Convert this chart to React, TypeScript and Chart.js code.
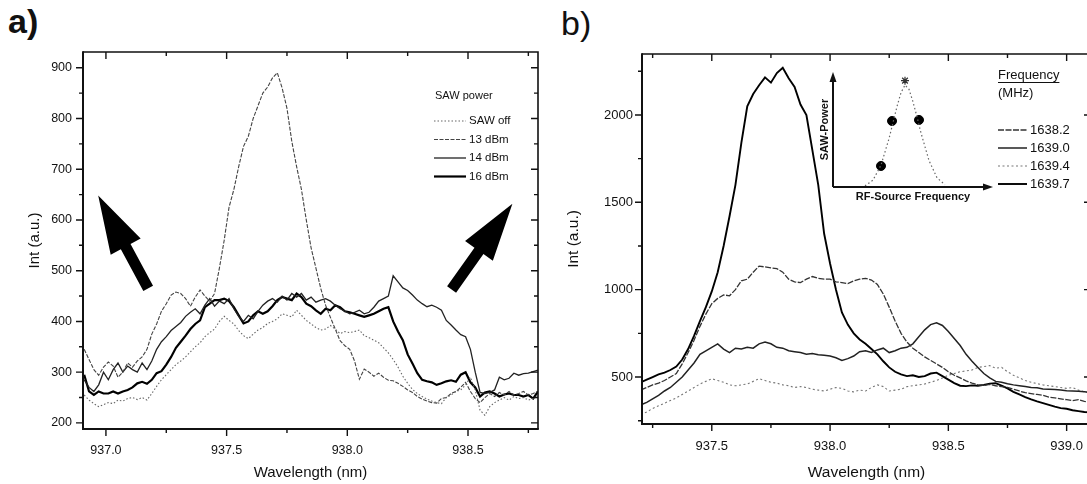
import React, { useEffect, useRef } from 'react';
import { Chart, registerables } from 'chart.js';

Chart.register(...registerables);

const FONT = "'Liberation Sans', Arial, Helvetica, sans-serif";
const INK = '#111';

// ---------------- panel a data ----------------
const wavelengthA = [
  936.91, 936.93, 936.95, 936.97, 936.99,
  937.01, 937.03, 937.05, 937.07, 937.09, 937.11, 937.13, 937.15, 937.17, 937.19,
  937.21, 937.23, 937.25, 937.27, 937.29, 937.31, 937.33, 937.35, 937.37, 937.39,
  937.41, 937.43, 937.45, 937.47, 937.49, 937.51, 937.53, 937.55, 937.57, 937.59,
  937.61, 937.63, 937.65, 937.67, 937.69, 937.71, 937.73, 937.75, 937.77, 937.79,
  937.81, 937.83, 937.85, 937.87, 937.89, 937.91, 937.93, 937.95, 937.97, 937.99,
  938.01, 938.03, 938.05, 938.07, 938.09, 938.11, 938.13, 938.15, 938.17, 938.19,
  938.21, 938.23, 938.25, 938.27, 938.29, 938.31, 938.33, 938.35, 938.37, 938.39,
  938.41, 938.43, 938.45, 938.47, 938.49, 938.51, 938.53, 938.55, 938.57, 938.59,
  938.61, 938.63, 938.65, 938.67, 938.69, 938.71, 938.73, 938.75, 938.77, 938.79,
];
const sawOff = [
  255, 245, 238, 232, 236,
  240, 238, 245, 243, 248, 250, 246, 250, 245, 258,
  272, 285, 295, 305, 315, 322, 330, 340, 350, 358,
  370, 378, 385, 400, 410, 402, 395, 382, 372, 366,
  375, 383, 388, 396, 400, 405, 415, 412, 409, 422,
  412, 402, 395, 388, 383, 385, 392, 385, 376, 380,
  378, 380, 383, 372, 368, 363, 358, 348, 338, 325,
  310, 292, 278, 266, 258, 252, 247, 243, 240, 238,
  250, 255, 262, 265, 275, 290, 265, 225, 215, 232,
  240, 245, 250, 245, 252, 248, 250, 245, 248, 252,
];
const dBm13 = [
  345, 325, 305, 294, 310,
  320, 312, 290, 300, 318, 310, 322, 330, 345, 375,
  395, 420, 435, 452, 458, 455, 445, 430, 448, 462,
  450, 440, 455, 505, 560, 625, 660, 705, 745, 765,
  800, 825, 850, 862, 880, 890, 860, 820, 755, 705,
  660, 600, 545, 505, 465, 432, 408, 385, 362, 352,
  345, 322, 286, 306, 300, 292, 298, 290, 284, 283,
  278, 272, 265, 260, 252, 247, 243, 240, 239, 248,
  250, 258, 262, 270, 280, 262, 248, 240, 250, 258,
  252, 260, 255, 262, 255, 258, 262, 255, 258, 262,
];
const dBm14 = [
  285, 270, 262, 275, 300,
  285, 305, 318, 300, 312, 305, 300, 318, 305, 322,
  345, 360, 370, 382, 390, 398, 410, 418, 425, 415,
  432, 445, 430, 440, 435, 445, 425, 410, 400, 412,
  405, 420, 432, 440, 445, 438, 450, 442, 455, 448,
  455, 442, 448, 438, 442, 445, 440, 432, 425, 420,
  415, 418, 422, 415, 418, 428, 440, 445, 450, 490,
  478, 466, 461, 452, 442, 435, 429, 432, 428, 422,
  402, 393, 383, 374, 370, 345, 300, 260, 258, 260,
  265, 290, 285, 288, 298, 294, 297, 298, 301, 304,
];
const dBm16 = [
  295, 262, 255, 262, 258,
  258, 262, 258, 262, 265, 270, 278, 281, 277, 285,
  298, 302, 315, 330, 348, 360, 372, 385, 395, 402,
  428, 435, 442, 442, 445, 440, 428, 412, 396, 400,
  412, 420, 415, 420, 430, 442, 448, 445, 442, 455,
  448, 435, 430, 422, 415, 425, 422, 432, 428, 420,
  418, 415, 412, 409, 412, 415, 420, 425, 428, 400,
  380, 363, 335, 317, 298, 285, 282, 280, 275, 278,
  282, 284, 281, 295, 300, 280, 270, 252, 260, 262,
  258, 252, 256, 258, 255, 255, 252, 255, 248, 262,
];
const seriesLabelsA = ['SAW off', '13 dBm', '14 dBm', '16 dBm'];
const xTicksA = [937.0, 937.5, 938.0, 938.5];
const yTicksA = [200, 300, 400, 500, 600, 700, 800, 900];
const xRangeA = [936.905, 938.79];
const yRangeA = [188, 931];
// arrows (data coordinates): tail -> tip
const arrowTailsA = [[937.175, 465], [938.432, 463]];
const arrowTipsA = [[936.968, 648], [938.684, 632]];

// ---------------- panel b data ----------------
const wavelengthB = [
  937.2, 937.225, 937.25, 937.275, 937.3, 937.325, 937.35, 937.375, 937.4, 937.425,
  937.45, 937.475, 937.5, 937.525, 937.55, 937.575, 937.6, 937.625, 937.65, 937.675,
  937.7, 937.725, 937.75, 937.775, 937.8, 937.825, 937.85, 937.875, 937.9, 937.925,
  937.95, 937.975, 938.0, 938.025, 938.05, 938.075, 938.1, 938.125, 938.15, 938.175,
  938.2, 938.225, 938.25, 938.275, 938.3, 938.325, 938.35, 938.375, 938.4, 938.425,
  938.45, 938.475, 938.5, 938.525, 938.55, 938.575, 938.6, 938.625, 938.65, 938.675,
  938.7, 938.725, 938.75, 938.775, 938.8, 938.825, 938.85, 938.875, 938.9, 938.925,
  938.95, 938.975, 939.0, 939.025, 939.05, 939.075, 939.1,
];
const f16382 = [
  425, 440, 455, 465, 480, 500, 520, 575, 640, 710,
  790, 860, 920, 950, 970, 965, 1000, 1050, 1060, 1100,
  1135, 1130, 1125, 1120, 1100, 1060, 1045, 1040, 1060, 1075,
  1065, 1060, 1060, 1045, 1040, 1035, 1050, 1060, 1065, 1055,
  1030, 975, 900, 820, 750, 700, 665, 640, 615, 595,
  575, 555, 530, 510, 495, 478, 465, 455, 452, 458,
  450, 445, 440, 430, 420, 410, 405, 400, 395, 385,
  380, 375, 370, 365, 370, 360, 355,
];
const f16390 = [
  340, 355, 375, 395, 420, 440, 470, 500, 540, 580,
  630, 650, 670, 690, 660, 640, 665, 660, 670, 665,
  690, 700, 690, 670, 665, 650, 645, 640, 630, 635,
  628, 625, 620, 610, 595, 605, 620, 645, 650, 640,
  655, 665, 640, 650, 665, 670, 690, 730, 770, 800,
  810, 795, 760, 720, 680, 630, 590, 555, 520, 495,
  475, 470, 462, 455, 450, 445, 440, 438, 432, 430,
  428, 425, 422, 420, 418, 415, 412,
];
const f16394 = [
  285, 300, 320, 335, 350, 365, 380, 400, 420, 440,
  460, 475, 490, 480, 470, 455, 450, 455, 460, 475,
  490, 480, 470, 465, 455, 450, 440, 445, 440, 430,
  425, 420, 430, 440, 435, 420, 415, 425, 420, 440,
  455, 445, 420, 425, 430, 445, 450, 455, 460, 470,
  480, 495, 510, 520, 530, 535, 540, 555, 560, 565,
  550, 555, 530, 510, 495, 480, 470, 462, 455, 450,
  445, 440, 435, 440, 425, 415, 410,
];
const f16397 = [
  470, 485, 500, 515, 525, 540, 560, 600, 660, 735,
  820, 900, 990, 1100, 1250, 1420, 1600, 1840, 2050, 2120,
  2170, 2215, 2185, 2240, 2270, 2210, 2160, 2060, 2000, 1800,
  1600, 1320, 1150, 1000, 870, 800, 750, 715, 690, 660,
  630, 590, 555, 530, 515, 505, 510, 500, 505, 520,
  525, 505, 485, 465, 450, 448, 452, 450, 455, 462,
  465, 450, 435, 415, 400, 385, 372, 360, 350, 340,
  330, 322, 318, 310, 305, 300, 298,
];
const seriesLabelsB = ['1638.2', '1639.0', '1639.4', '1639.7'];
const xTicksB = [937.5, 938.0, 938.5, 939.0];
const yTicksB = [500, 1000, 1500, 2000];
const xRangeB = [937.205, 939.103];
const yRangeB = [231, 2349];

// ---------------- inset data ----------------
const insetCurveX = [2.0, 2.5, 3.0, 3.5, 3.75, 4.0, 4.25, 4.5, 4.75, 5.0, 5.25, 5.5, 6.0, 6.5, 7.0];
const insetCurveY = [0.1, 0.6, 1.9, 4.2, 5.6, 7.0, 8.2, 8.87, 8.5, 7.4, 6.1, 4.7, 2.3, 0.8, 0.2];
const insetPointX = [3.0, 3.69, 5.375];
const insetPointY = [1.83, 5.74, 5.83];
const insetPeak = [4.5, 9.25];

// ---------------- helpers ----------------
function pairs(xs: number[], ys: number[]) {
  return xs.map((x, i) => ({ x, y: ys[i] }));
}

function minorTicks(majors: number[], min: number, max: number) {
  const step = majors[1] - majors[0];
  const out: number[] = [];
  for (let v = majors[0] - step / 2; v <= max + 1e-9; v += step) {
    if (v >= min) out.push(v);
  }
  return out;
}

function framePlugin(xMajors: number[], yMajors: number[]) {
  return {
    id: 'frameTicks',
    afterDraw(chart: any) {
      const { ctx, chartArea: a, scales } = chart;
      const xs = scales.x;
      const ys = scales.y;
      ctx.save();
      ctx.setLineDash([]);
      ctx.strokeStyle = INK;
      ctx.lineWidth = 1.6;
      ctx.beginPath();
      ctx.moveTo(a.left, a.top);
      ctx.lineTo(a.right, a.top);
      ctx.lineTo(a.right, a.bottom);
      ctx.stroke();
      ctx.lineWidth = 2;
      ctx.beginPath();
      ctx.moveTo(a.left, a.top - 0.8);
      ctx.lineTo(a.left, a.bottom);
      ctx.lineTo(a.right + 0.8, a.bottom);
      ctx.stroke();
      ctx.lineWidth = 1.4;
      const xMin = xs.min, xMax = xs.max, yMin = ys.min, yMax = ys.max;
      const drawX = (vals: number[], len: number) => {
        vals.forEach((v) => {
          if (v < xMin || v > xMax) return;
          const px = xs.getPixelForValue(v);
          ctx.beginPath();
          ctx.moveTo(px, a.bottom);
          ctx.lineTo(px, a.bottom + len);
          ctx.moveTo(px, a.top);
          ctx.lineTo(px, a.top + len);
          ctx.stroke();
        });
      };
      const drawY = (vals: number[], len: number) => {
        vals.forEach((v) => {
          if (v < yMin || v > yMax) return;
          const py = ys.getPixelForValue(v);
          ctx.beginPath();
          ctx.moveTo(a.left - len, py);
          ctx.lineTo(a.left, py);
          ctx.moveTo(a.right - len, py);
          ctx.lineTo(a.right, py);
          ctx.stroke();
        });
      };
      drawX(xMajors, 7);
      drawX(minorTicks(xMajors, xMin, xMax), 4);
      drawY(yMajors, 7);
      drawY(minorTicks(yMajors, yMin, yMax), 4);
      ctx.restore();
    },
  };
}

function legendPlugin(cfg: any) {
  return {
    id: 'legendBox',
    afterDraw(chart: any) {
      const ctx = chart.ctx;
      ctx.save();
      ctx.fillStyle = INK;
      ctx.strokeStyle = INK;
      ctx.textBaseline = 'middle';
      ctx.textAlign = 'left';
      cfg.titles.forEach((t: any) => {
        ctx.font = t.font;
        ctx.fillText(t.text, t.x, t.y);
        if (t.underline) {
          const w = ctx.measureText(t.text).width;
          ctx.lineWidth = 1;
          ctx.setLineDash([]);
          ctx.beginPath();
          ctx.moveTo(t.x, t.y + 7.5);
          ctx.lineTo(t.x + w, t.y + 7.5);
          ctx.stroke();
        }
      });
      chart.data.datasets.forEach((ds: any, i: number) => {
        const y = cfg.rowsY[i];
        ctx.strokeStyle = ds.borderColor;
        ctx.lineWidth = ds.borderWidth;
        ctx.setLineDash(ds.borderDash || []);
        ctx.beginPath();
        ctx.moveTo(cfg.lineX[0], y);
        ctx.lineTo(cfg.lineX[1], y);
        ctx.stroke();
        ctx.setLineDash([]);
        ctx.fillStyle = INK;
        ctx.font = cfg.font;
        ctx.fillText(ds.label, cfg.textX, y);
      });
      ctx.restore();
    },
  };
}

function arrowsPlugin(tails: number[][], tips: number[][]) {
  return {
    id: 'bigArrows',
    afterDatasetsDraw(chart: any) {
      const { ctx, scales } = chart;
      ctx.save();
      ctx.fillStyle = '#000';
      tails.forEach((t, i) => {
        const p0 = { x: scales.x.getPixelForValue(t[0]), y: scales.y.getPixelForValue(t[1]) };
        const tip = tips[i];
        const p1 = { x: scales.x.getPixelForValue(tip[0]), y: scales.y.getPixelForValue(tip[1]) };
        const dx = p1.x - p0.x, dy = p1.y - p0.y;
        const L = Math.hypot(dx, dy);
        const ux = dx / L, uy = dy / L;
        const nx = -uy, ny = ux;
        const headL = 0.55 * L, headW = 17, shaftW = 5.5;
        const nb = { x: p1.x - ux * headL, y: p1.y - uy * headL };
        ctx.beginPath();
        ctx.moveTo(p0.x + nx * shaftW, p0.y + ny * shaftW);
        ctx.lineTo(nb.x + nx * shaftW, nb.y + ny * shaftW);
        ctx.lineTo(nb.x + nx * headW, nb.y + ny * headW);
        ctx.lineTo(p1.x, p1.y);
        ctx.lineTo(nb.x - nx * headW, nb.y - ny * headW);
        ctx.lineTo(nb.x - nx * shaftW, nb.y - ny * shaftW);
        ctx.lineTo(p0.x - nx * shaftW, p0.y - ny * shaftW);
        ctx.closePath();
        ctx.fill();
      });
      ctx.restore();
    },
  };
}

const insetAxesPlugin = {
  id: 'insetAxes',
  afterDraw(chart: any) {
    const { ctx, chartArea: a } = chart;
    ctx.save();
    ctx.strokeStyle = INK;
    ctx.fillStyle = INK;
    ctx.lineWidth = 2;
    ctx.setLineDash([]);
    ctx.beginPath();
    ctx.moveTo(a.left, a.bottom);
    ctx.lineTo(a.right - 7, a.bottom);
    ctx.moveTo(a.left, a.bottom);
    ctx.lineTo(a.left, a.top + 7);
    ctx.stroke();
    ctx.beginPath();
    ctx.moveTo(a.right, a.bottom);
    ctx.lineTo(a.right - 10, a.bottom - 3.5);
    ctx.lineTo(a.right - 10, a.bottom + 3.5);
    ctx.closePath();
    ctx.fill();
    ctx.beginPath();
    ctx.moveTo(a.left, a.top);
    ctx.lineTo(a.left - 3.5, a.top + 10);
    ctx.lineTo(a.left + 3.5, a.top + 10);
    ctx.closePath();
    ctx.fill();
    ctx.restore();
  },
};

function mainChart(canvas: HTMLCanvasElement, spec: any) {
  return new Chart(canvas, {
    type: 'line',
    data: {
      datasets: spec.series.map((s: any) => ({
        label: s.label,
        data: pairs(spec.xs, s.values),
        borderColor: s.color,
        borderWidth: s.width,
        borderDash: s.dash,
        pointRadius: 0,
        fill: false,
        tension: 0,
      })),
    },
    options: {
      responsive: false,
      animation: false,
      events: [],
      layout: { padding: spec.padding },
      plugins: { legend: { display: false }, tooltip: { enabled: false } },
      scales: {
        x: {
          type: 'linear',
          min: spec.xRange[0],
          max: spec.xRange[1],
          afterBuildTicks: (s: any) => {
            s.ticks = spec.xTicks.map((v: number) => ({ value: v }));
          },
          afterFit: (s: any) => {
            s.height = spec.xHeight;
          },
          grid: { display: false, drawTicks: false },
          border: { display: false },
          ticks: {
            autoSkip: false,
            maxRotation: 0,
            padding: spec.xTickPad,
            color: INK,
            font: { family: FONT, size: spec.tickSize },
            callback: (v: any) => Number(v).toFixed(1),
          },
          title: {
            display: true,
            text: 'Wavelength (nm)',
            color: INK,
            font: { family: FONT, size: spec.titleSize },
            padding: { top: 0, bottom: 2 },
          },
        },
        y: {
          type: 'linear',
          min: spec.yRange[0],
          max: spec.yRange[1],
          afterBuildTicks: (s: any) => {
            s.ticks = spec.yTicks.map((v: number) => ({ value: v }));
          },
          afterFit: (s: any) => {
            s.width = spec.yWidth;
          },
          grid: { display: false, drawTicks: false },
          border: { display: false },
          ticks: {
            autoSkip: false,
            padding: spec.yTickPad,
            color: INK,
            font: { family: FONT, size: spec.tickSize },
            callback: (v: any) => String(v),
          },
          title: {
            display: true,
            text: 'Int (a.u.)',
            color: INK,
            font: { family: FONT, size: spec.titleSize },
            padding: { top: spec.yTitlePad, bottom: 0 },
          },
        },
      },
    },
    plugins: spec.plugins,
  } as any);
}

export default function App() {
  const refA = useRef<HTMLCanvasElement>(null);
  const refB = useRef<HTMLCanvasElement>(null);
  const refI = useRef<HTMLCanvasElement>(null);

  useEffect(() => {
    const charts: Chart[] = [];
    if (refA.current) {
      charts.push(
        mainChart(refA.current, {
          xs: wavelengthA,
          series: [
            { label: seriesLabelsA[0], values: sawOff, color: '#666', width: 1.1, dash: [1.5, 2] },
            { label: seriesLabelsA[1], values: dBm13, color: '#444', width: 1.1, dash: [4, 1.5] },
            { label: seriesLabelsA[2], values: dBm14, color: '#222', width: 1.3, dash: [] },
            { label: seriesLabelsA[3], values: dBm16, color: '#000', width: 2.2, dash: [] },
          ],
          xRange: xRangeA,
          yRange: yRangeA,
          xTicks: xTicksA,
          yTicks: yTicksA,
          padding: { left: 0, top: 52, right: 22, bottom: 0 },
          xHeight: 55,
          yWidth: 83,
          xTickPad: 14,
          yTickPad: 11,
          yTitlePad: 26,
          tickSize: 12.5,
          titleSize: 15,
          plugins: [
            arrowsPlugin(arrowTailsA, arrowTipsA),
            framePlugin(xTicksA, yTicksA),
            legendPlugin({
              titles: [{ text: 'SAW power', x: 435, y: 96, font: `11px ${FONT}` }],
              rowsY: [121, 139.5, 158, 176.5],
              lineX: [434, 466],
              textX: 469,
              font: `11.5px ${FONT}`,
            }),
          ],
        })
      );
    }
    if (refB.current) {
      charts.push(
        mainChart(refB.current, {
          xs: wavelengthB,
          series: [
            { label: seriesLabelsB[0], values: f16382, color: '#333', width: 1.3, dash: [6, 1.5] },
            { label: seriesLabelsB[1], values: f16390, color: '#222', width: 1.5, dash: [] },
            { label: seriesLabelsB[2], values: f16394, color: '#777', width: 1.1, dash: [2, 2.5] },
            { label: seriesLabelsB[3], values: f16397, color: '#000', width: 1.9, dash: [] },
          ],
          xRange: xRangeB,
          yRange: yRangeB,
          xTicks: xTicksB,
          yTicks: yTicksB,
          padding: { left: 0, top: 54, right: 14, bottom: 0 },
          xHeight: 60,
          yWidth: 97,
          xTickPad: 15,
          yTickPad: 9,
          yTitlePad: 19,
          tickSize: 13,
          titleSize: 15.5,
          plugins: [
            framePlugin(xTicksB, yTicksB),
            legendPlugin({
              titles: [
                { text: 'Frequency', x: 453, y: 75, font: `13px ${FONT}`, underline: true },
                { text: '(MHz)', x: 453, y: 93, font: `13px ${FONT}` },
              ],
              rowsY: [130, 148, 166, 184],
              lineX: [453, 482],
              textX: 485,
              font: `13px ${FONT}`,
            }),
          ],
        })
      );
    }
    if (refI.current) {
      charts.push(
        new Chart(refI.current, {
          type: 'line',
          data: {
            datasets: [
              {
                label: 'curve',
                data: pairs(insetCurveX, insetCurveY),
                borderColor: '#666',
                borderWidth: 1.2,
                borderDash: [1.5, 2.5],
                pointRadius: 0,
                tension: 0,
              },
              {
                label: 'points',
                data: pairs(insetPointX, insetPointY),
                showLine: false,
                pointRadius: 4.5,
                pointBackgroundColor: '#000',
                pointBorderColor: '#000',
              },
              {
                label: 'peak',
                data: [{ x: insetPeak[0], y: insetPeak[1] }],
                showLine: false,
                pointStyle: 'star',
                pointRadius: 4,
                pointBorderColor: '#333',
                pointBorderWidth: 1.2,
              },
            ],
          },
          options: {
            responsive: false,
            animation: false,
            events: [],
            layout: { padding: { left: 0, top: 10, right: 7, bottom: 0 } },
            plugins: { legend: { display: false }, tooltip: { enabled: false } },
            scales: {
              x: {
                type: 'linear',
                min: 0,
                max: 10,
                ticks: { display: false },
                grid: { display: false },
                border: { display: false },
                afterFit: (s: any) => {
                  s.height = 20;
                },
                title: {
                  display: true,
                  text: 'RF-Source Frequency',
                  color: INK,
                  font: { family: FONT, size: 11, weight: 'bold' },
                  padding: { top: 0, bottom: 3.4 },
                },
              },
              y: {
                type: 'linear',
                min: 0,
                max: 10,
                ticks: { display: false },
                grid: { display: false },
                border: { display: false },
                afterFit: (s: any) => {
                  s.width = 28;
                },
                title: {
                  display: true,
                  text: 'SAW-Power',
                  color: INK,
                  font: { family: FONT, size: 11, weight: 'bold' },
                  padding: { top: 13.4, bottom: 0 },
                },
              },
            },
          },
          plugins: [insetAxesPlugin],
        } as any)
      );
    }
    return () => charts.forEach((c) => c.destroy());
  }, []);

  return (
    <div
      style={{
        position: 'fixed',
        left: 0,
        top: 0,
        width: 1087,
        height: 484,
        overflow: 'hidden',
        background: '#fff',
      }}
    >
      <div
        style={{
          position: 'absolute',
          left: 8,
          top: 4,
          fontFamily: FONT,
          fontWeight: 'bold',
          fontSize: 34,
          lineHeight: '34px',
          color: INK,
        }}
      >
        a)
      </div>
      <div
        style={{
          position: 'absolute',
          left: 561,
          top: 6,
          fontFamily: FONT,
          fontSize: 34,
          lineHeight: '34px',
          color: INK,
        }}
      >
        b)
      </div>
      <canvas
        ref={refA}
        width={560}
        height={484}
        style={{ position: 'absolute', left: 0, top: 0, width: 560, height: 484 }}
      />
      <canvas
        ref={refB}
        width={560}
        height={484}
        style={{ position: 'absolute', left: 545, top: 0, width: 560, height: 484 }}
      />
      <canvas
        ref={refI}
        width={195}
        height={145}
        style={{ position: 'absolute', left: 805, top: 62, width: 195, height: 145 }}
      />
    </div>
  );
}
